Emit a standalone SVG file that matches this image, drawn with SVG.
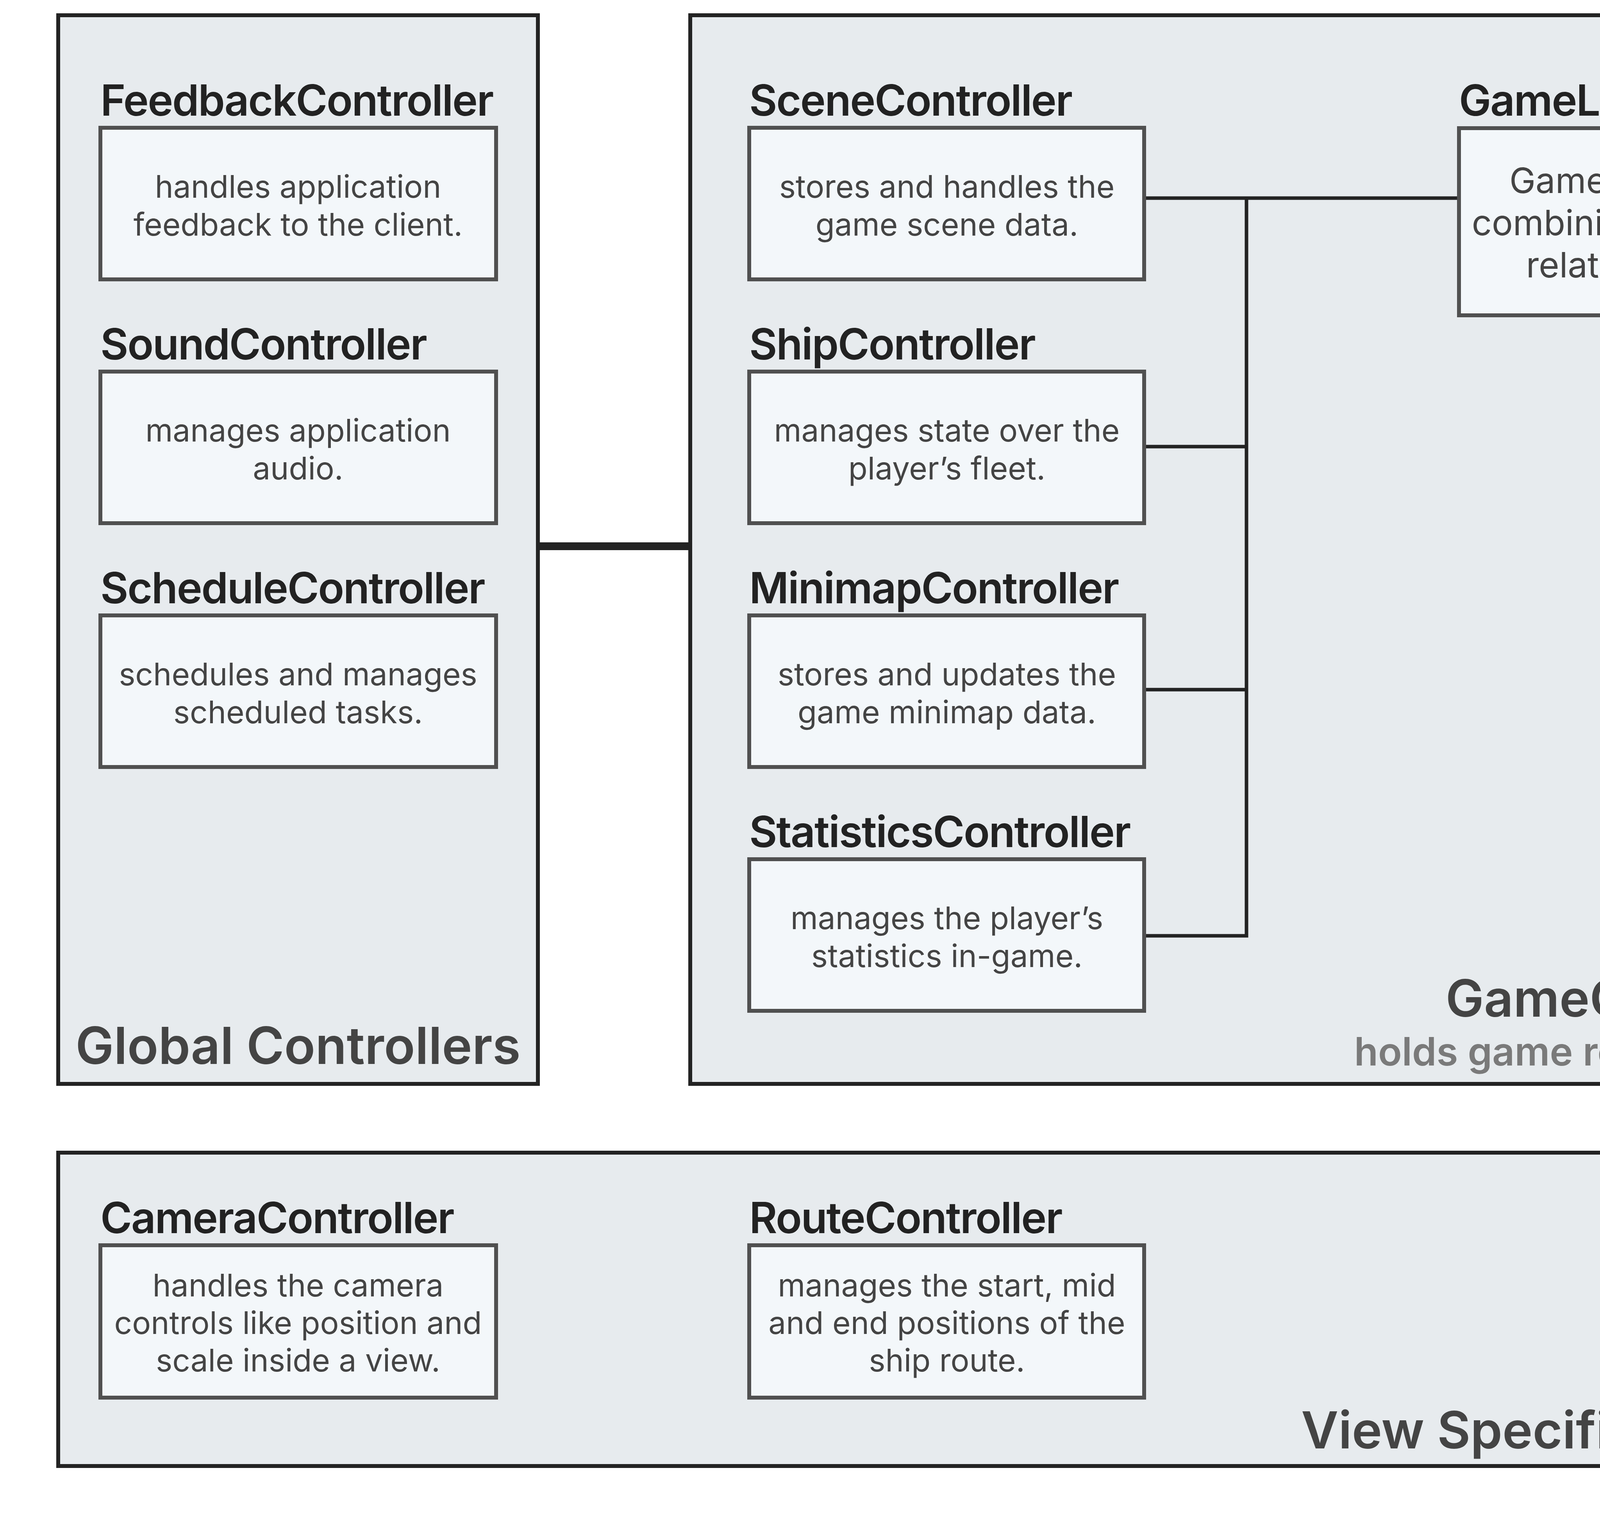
<svg xmlns="http://www.w3.org/2000/svg" width="5108" height="3926" viewBox="0 0 5108 3926">
<style>
text{font-family:Inter,"Liberation Sans",sans-serif}
.outer{fill:#e7ebee;stroke:#232323;stroke-width:10}
.box{fill:#f3f7fa;stroke:#505050;stroke-width:10}
.title{font-size:110px;font-weight:600;fill:#222;letter-spacing:-2.4px}
.desc{font-size:80px;fill:#444;text-anchor:middle}
.desc2{font-size:90px;fill:#444;text-anchor:middle}
.big{font-size:131px;font-weight:600;fill:#444}
.sub{font-size:100px;font-weight:600;fill:#7a7a7a;text-anchor:middle}
.wire{fill:none;stroke:#232323;stroke-width:9;stroke-linejoin:miter}
</style>
<rect width="5108" height="3926" fill="#fff"/>
<g id="global-controllers">
<rect class="outer" x="149" y="39" width="1228" height="2735"/>
<text class="big" x="763" y="2723" text-anchor="middle">Global Controllers</text>
</g>
<g id="game-controller">
<rect class="outer" x="1767" y="39" width="3244" height="2735"/>
<text class="big" x="4200" y="2602" text-anchor="middle">GameController</text>
<text class="sub" x="4200" y="2727">holds game related controllers</text>
</g>
<g id="view-controllers">
<rect class="outer" x="149" y="2950" width="4862" height="802"/>
<text class="big" x="4931" y="3707" text-anchor="end">View Specific Controllers</text>
</g>
<g id="connectors">
<line x1="1377" y1="1398" x2="1767" y2="1398" stroke="#232323" stroke-width="20"/>
<line class="wire" x1="2929" y1="507" x2="3735" y2="507"/>
<line class="wire" x1="2929" y1="1143" x2="3191" y2="1143"/>
<line class="wire" x1="2929" y1="1765" x2="3191" y2="1765"/>
<path class="wire" d="M2929 2395 H3191 V503"/>
</g>
<g id="feedback-controller">
<text class="title" x="257" y="296">FeedbackController</text>
<rect class="box" x="257" y="327" width="1013" height="388"/>
<text class="desc" x="763" y="506">handles application</text>
<text class="desc" x="763" y="603">feedback to the client.</text>
</g>
<g id="sound-controller">
<text class="title" x="257" y="920">SoundController</text>
<rect class="box" x="257" y="951" width="1013" height="388"/>
<text class="desc" x="763" y="1130">manages application</text>
<text class="desc" x="763" y="1227">audio.</text>
</g>
<g id="schedule-controller">
<text class="title" x="257" y="1544">ScheduleController</text>
<rect class="box" x="257" y="1575" width="1013" height="388"/>
<text class="desc" x="763" y="1754">schedules and manages</text>
<text class="desc" x="763" y="1851">scheduled tasks.</text>
</g>
<g id="scene-controller">
<text class="title" x="1918" y="296">SceneController</text>
<rect class="box" x="1918" y="327" width="1011" height="388"/>
<text class="desc" x="2424" y="506">stores and handles the</text>
<text class="desc" x="2424" y="603">game scene data.</text>
</g>
<g id="ship-controller">
<text class="title" x="1918" y="920">ShipController</text>
<rect class="box" x="1918" y="951" width="1011" height="388"/>
<text class="desc" x="2424" y="1130">manages state over the</text>
<text class="desc" x="2424" y="1227">player’s fleet.</text>
</g>
<g id="minimap-controller">
<text class="title" x="1918" y="1544">MinimapController</text>
<rect class="box" x="1918" y="1575" width="1011" height="388"/>
<text class="desc" x="2424" y="1754">stores and updates the</text>
<text class="desc" x="2424" y="1851">game minimap data.</text>
</g>
<g id="statistics-controller">
<text class="title" x="1918" y="2168">StatisticsController</text>
<rect class="box" x="1918" y="2199" width="1011" height="388"/>
<text class="desc" x="2424" y="2378">manages the player’s</text>
<text class="desc" x="2424" y="2475">statistics in-game.</text>
</g>
<g id="game-logic">
<text class="title" x="3735" y="296">GameLogic</text>
<rect class="box" x="3735" y="328" width="1141" height="479"/>
<text class="desc2" x="4305" y="494">Game business logic</text>
<text class="desc2" x="4305" y="602">combining global &amp; game</text>
<text class="desc2" x="4305" y="710">related controllers.</text>
</g>
<g id="camera-controller">
<text class="title" x="257" y="3156">CameraController</text>
<rect class="box" x="257" y="3187" width="1013" height="390"/>
<text class="desc" x="763" y="3318">handles the camera</text>
<text class="desc" x="763" y="3414">controls like position and</text>
<text class="desc" x="763" y="3510">scale inside a view.</text>
</g>
<g id="route-controller">
<text class="title" x="1918" y="3156">RouteController</text>
<rect class="box" x="1918" y="3187" width="1011" height="390"/>
<text class="desc" x="2424" y="3318">manages the start, mid</text>
<text class="desc" x="2424" y="3414">and end positions of the</text>
<text class="desc" x="2424" y="3510">ship route.</text>
</g>
</svg>
